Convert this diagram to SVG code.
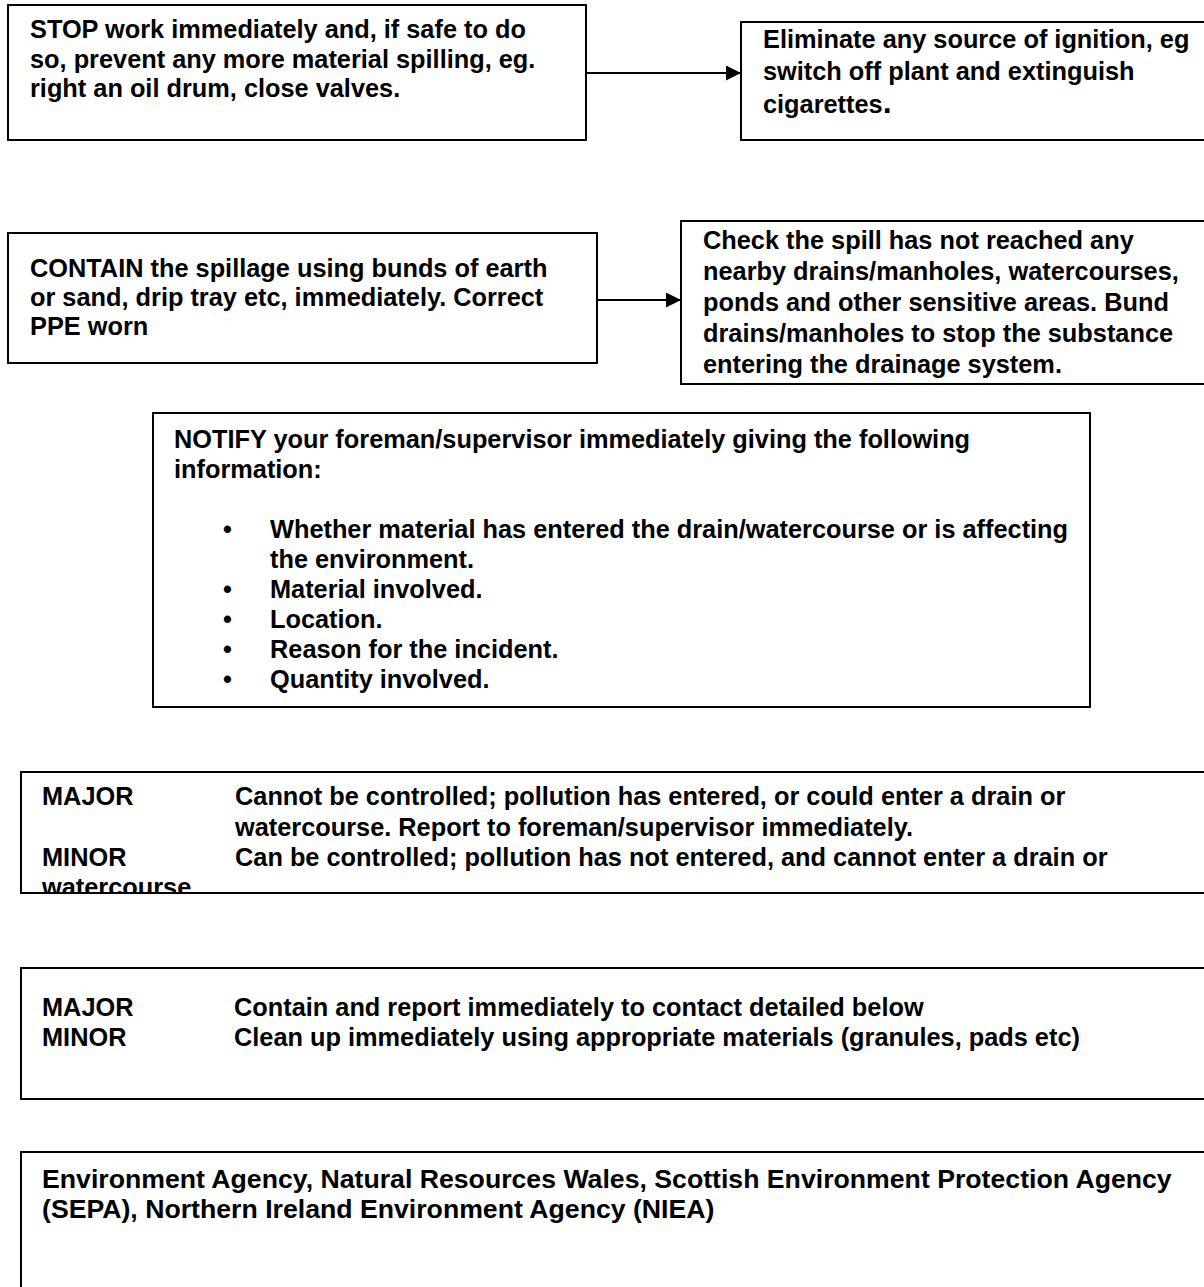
<svg xmlns="http://www.w3.org/2000/svg" width="1204" height="1287" viewBox="0 0 1204 1287">
<style>
.box{fill:#fff;stroke:#000;stroke-width:2}
.t{font-family:"Liberation Sans",Arial,sans-serif;font-weight:bold;font-size:25.33px;fill:#000}
.t8{font-size:26.67px}
.c{stroke:#000;stroke-width:2;fill:none}
</style>
<defs>
<marker id="ah" markerWidth="15" markerHeight="15" refX="15" refY="7.5" orient="auto" markerUnits="userSpaceOnUse">
<path d="M0,0 L15,7.5 L0,15 Z" fill="#000"/>
</marker>
<clipPath id="clip6"><rect x="21" y="772" width="1200" height="121"/></clipPath>
</defs>
<rect width="1204" height="1287" fill="#fff"/>
<g id="connectors">
<line class="c" x1="586" y1="73" x2="741" y2="73" marker-end="url(#ah)"/>
<line class="c" x1="597" y1="300" x2="681" y2="300" marker-end="url(#ah)"/>
</g>
<g id="stop">
<rect class="box" x="8" y="5" width="578" height="135"/>
<text class="t" x="30" y="38">STOP work immediately and, if safe to do</text>
<text class="t" x="30" y="67.5">so, prevent any more material spilling, eg.</text>
<text class="t" x="30" y="97">right an oil drum, close valves.</text>
</g>
<g id="eliminate">
<rect class="box" x="741" y="22" width="480" height="118"/>
<text class="t" x="763" y="48">Eliminate any source of ignition, eg</text>
<text class="t" x="763" y="80">switch off plant and extinguish</text>
<text class="t" x="763" y="113">cigarettes<tspan font-size="32">.</tspan></text>
</g>
<g id="contain">
<rect class="box" x="8" y="233" width="589" height="130"/>
<text class="t" x="30" y="277">CONTAIN the spillage using bunds of earth</text>
<text class="t" x="30" y="306">or sand, drip tray etc, immediately. Correct</text>
<text class="t" x="30" y="335">PPE worn</text>
</g>
<g id="check">
<rect class="box" x="681" y="221" width="540" height="163"/>
<text class="t" x="703" y="249">Check the spill has not reached any</text>
<text class="t" x="703" y="280">nearby drains/manholes, watercourses,</text>
<text class="t" x="703" y="311">ponds and other sensitive areas.  Bund</text>
<text class="t" x="703" y="342">drains/manholes to stop the substance</text>
<text class="t" x="703" y="373">entering the drainage system.</text>
</g>
<g id="notify">
<rect class="box" x="153" y="413" width="937" height="294"/>
<text class="t" x="174" y="448">NOTIFY your foreman/supervisor immediately giving the following</text>
<text class="t" x="174" y="478">information:</text>
<text class="t" x="223" y="538">•</text>
<text class="t" x="270" y="538">Whether material has entered the drain/watercourse or is affecting</text>
<text class="t" x="270" y="568">the environment.</text>
<text class="t" x="223" y="598">•</text>
<text class="t" x="270" y="598">Material involved.</text>
<text class="t" x="223" y="628">•</text>
<text class="t" x="270" y="628">Location.</text>
<text class="t" x="223" y="658">•</text>
<text class="t" x="270" y="658">Reason for the incident.</text>
<text class="t" x="223" y="688">•</text>
<text class="t" x="270" y="688">Quantity involved.</text>
</g>
<g id="severity">
<rect class="box" x="21" y="772" width="1200" height="121"/>
<g clip-path="url(#clip6)">
<text class="t" x="42" y="805">MAJOR</text>
<text class="t" x="235" y="805">Cannot be controlled; pollution has entered, or could enter a drain or</text>
<text class="t" x="235" y="836">watercourse.  Report to foreman/supervisor immediately.</text>
<text class="t" x="42" y="866">MINOR</text>
<text class="t" x="235" y="866">Can be controlled; pollution has not entered, and cannot enter a drain or</text>
<text class="t" x="42" y="896">watercourse.</text>
</g>
</g>
<g id="action">
<rect class="box" x="21" y="968" width="1200" height="131"/>
<text class="t" x="42" y="1016">MAJOR</text>
<text class="t" x="234" y="1016">Contain and report immediately to contact detailed below</text>
<text class="t" x="42" y="1046">MINOR</text>
<text class="t" x="234" y="1046">Clean up immediately using appropriate materials (granules, pads etc)</text>
</g>
<g id="contacts">
<rect class="box" x="21" y="1152" width="1200" height="150"/>
<text class="t t8" x="42" y="1188">Environment Agency, Natural Resources Wales, Scottish Environment Protection Agency</text>
<text class="t t8" x="42" y="1218">(SEPA), Northern Ireland Environment Agency (NIEA)</text>
</g>
</svg>
